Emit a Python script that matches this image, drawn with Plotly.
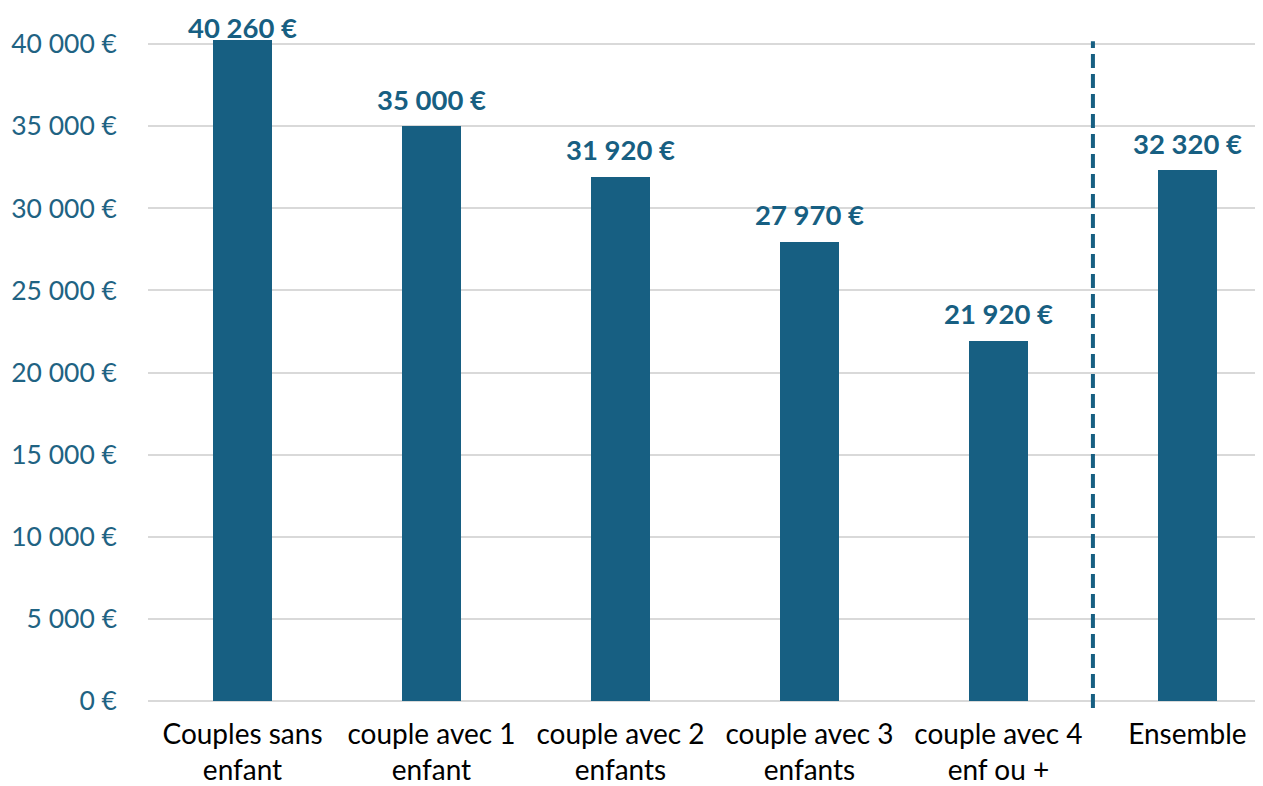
import plotly.graph_objects as go

categories = ["Couples sans<br>enfant", "couple avec 1<br>enfant", "couple avec 2<br>enfants",
              "couple avec 3<br>enfants", "couple avec 4<br>enf ou +", "Ensemble"]
values = [40260, 35000, 31920, 27970, 21920, 32320]
tick_vals = [0, 5000, 10000, 15000, 20000, 25000, 30000, 35000, 40000]
tick_text = ["0 €", "5 000 €", "10 000 €", "15 000 €", "20 000 €", "25 000 €",
             "30 000 €", "35 000 €", "40 000 €"]
labels = [f"{v:,}".replace(",", " ") + " €" for v in values]

BAR = "#175F82"
FONT = "Lato"

fig = go.Figure()
fig.add_trace(go.Bar(
    x=list(range(len(categories))), y=values,
    marker=dict(color=BAR, line=dict(width=0)),
    width=0.31,
    cliponaxis=False,
))

# value labels above bars (the tallest one is squeezed down to stay in the frame)
vmax = max(values)
for i, (v, lab) in enumerate(zip(values, labels)):
    fig.add_annotation(
        x=i, y=v, xref="x", yref="y", text=lab, showarrow=False,
        yanchor="middle", yshift=(12 if v == vmax else 27),
        font=dict(family=FONT, size=27.5, color=BAR, weight="bold"),
    )

fig.add_shape(type="line", xref="x", yref="paper", x0=4.5, x1=4.5, y0=-0.0101, y1=0.952,
              line=dict(color=BAR, width=4, dash="14px,6px"))

fig.update_layout(
    width=1255, height=778,
    margin=dict(l=140, r=0, t=0, b=85, autoexpand=False),
    plot_bgcolor="white", paper_bgcolor="white",
    showlegend=False,
    bargap=0,
    xaxis=dict(
        range=[-0.5, 5.4], automargin=False,
        tickmode="array", tickvals=list(range(len(categories))), ticktext=categories,
        tickfont=dict(family=FONT, size=28, color="black"),
        showgrid=False, zeroline=False, showline=False,
        ticks="", ticklabelstandoff=14,
    ),
    yaxis=dict(
        range=[0, 42192], automargin=False,
        tickmode="array", tickvals=tick_vals, ticktext=tick_text,
        tickfont=dict(family=FONT, size=26.5, color="#1F6383"),
        showgrid=True, gridcolor="#D9D9D9", gridwidth=1.5,
        zeroline=True, zerolinecolor="#D9D9D9", zerolinewidth=1.5,
        showline=False, ticks="", ticklabelstandoff=30,
    ),
)

fig.write_html("out.html")
